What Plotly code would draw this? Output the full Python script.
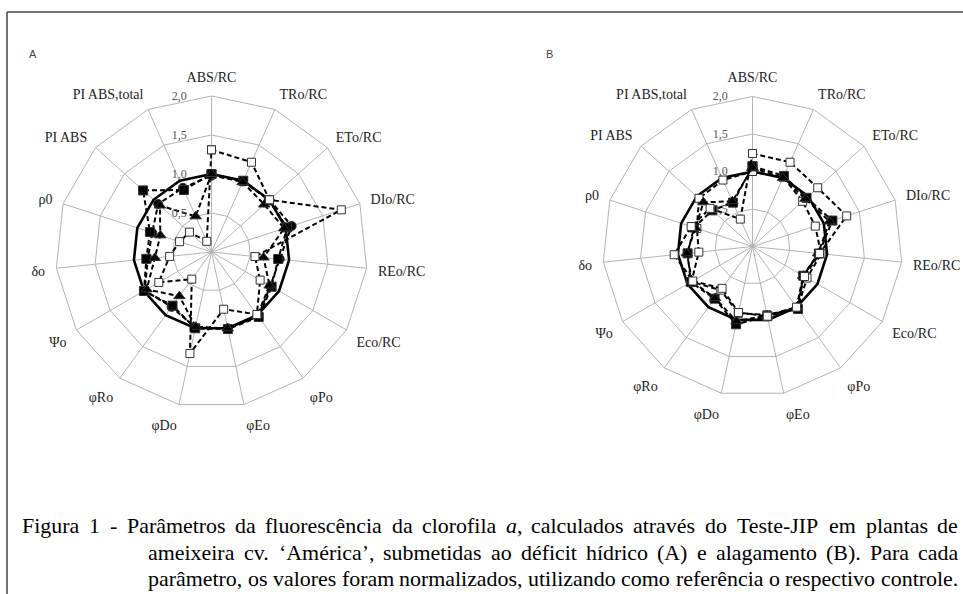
import unicodedata
import plotly.graph_objects as go

W, H = 963, 594

categories = ["ABS/RC", "TRo/RC", "ETo/RC", "DIo/RC", "REo/RC", "Eco/RC", "φPo", "φEo",
              "φDo", "φRo", "Ψo", "δo", "ρ0", "PI ABS", "PI ABS,total"]

radial_ticks = [0.5, 1.0, 1.5, 2.0]
radial_ticktext = ["0,5", "1,0", "1,5", "2,0"]

# Panel A - water deficit (values normalised to control)
a_control = [1.0] * 15
a_open_sq = [1.31, 1.26, 1.00, 1.75, 0.56, 0.72, 0.99, 0.75, 1.33, 0.43, 0.78, 0.54, 0.43, 0.38, 0.15]
a_triangle = [1.00, 0.98, 0.91, 0.98, 0.67, 0.86, 1.00, 1.00, 0.98, 0.70, 0.96, 0.73, 0.69, 0.89, 0.50]
a_square = [1.00, 1.00, 0.99, 1.02, 0.86, 0.89, 1.03, 1.01, 1.00, 0.85, 1.00, 0.84, 0.83, 1.18, 0.87]
a_circle = [0.98, 0.99, 1.00, 1.08, 0.88, 0.87, 1.02, 1.00, 0.99, 0.87, 0.99, 0.82, 0.80, 0.92, 0.90]

# Panel B - flooding
b_control = [1.0] * 15
b_open_sq = [1.24, 1.23, 1.17, 1.32, 0.90, 0.80, 1.00, 0.95, 0.90, 0.69, 0.92, 1.05, 0.86, 0.76, 0.40]
b_triangle = [1.05, 1.00, 0.95, 1.08, 0.88, 0.78, 1.00, 0.94, 1.02, 0.85, 0.93, 0.88, 0.80, 0.88, 0.66]
b_square = [1.07, 1.03, 0.97, 1.12, 0.89, 0.78, 1.03, 0.95, 1.06, 0.86, 0.95, 0.87, 0.82, 0.72, 0.64]
b_circle = [1.00, 1.01, 0.90, 0.88, 0.92, 0.84, 1.02, 0.93, 0.91, 0.72, 0.94, 0.72, 0.78, 0.96, 0.97]

# caption lines; "*" marks an italic letter
caption_lines = [
    "Figura 1 - Parâmetros da fluorescência da clorofila *a, calculados através do Teste-JIP em plantas de",
    "ameixeira cv. ‘América’, submetidas ao déficit hídrico (A) e alagamento (B). Para cada",
    "parâmetro, os valores foram normalizados, utilizando como referência o respectivo controle.",
]

fig = go.Figure()


def closed(v):
    return list(v) + [v[0]]


cats_closed = closed(categories)


def add_panel(sub, control, series):
    fig.add_trace(go.Scatterpolar(r=closed(control), theta=cats_closed, mode="lines",
                                  line=dict(color="black", width=2.6), subplot=sub,
                                  showlegend=False, hoverinfo="skip"))
    for vals, sym, fill, size in series:
        fig.add_trace(go.Scatterpolar(
            r=closed(vals), theta=cats_closed, mode="lines+markers", subplot=sub,
            line=dict(color="black", width=2, dash="5px,3px"),
            marker=dict(symbol=sym, size=size, color=fill,
                        line=dict(color="#333333", width=1)),
            showlegend=False))


add_panel("polar", a_control, [(a_circle, "circle", "black", 9), (a_square, "square", "black", 9),
                               (a_triangle, "triangle-up", "black", 10),
                               (a_open_sq, "square", "white", 8)])
add_panel("polar2", b_control, [(b_circle, "square", "white", 8), (b_square, "square", "black", 9),
                                (b_triangle, "triangle-up", "black", 10),
                                (b_open_sq, "square", "white", 8)])


def polar_layout(cx, cy, rad):
    return dict(
        domain=dict(x=[(cx - rad) / W, (cx + rad) / W], y=[1 - (cy + rad) / H, 1 - (cy - rad) / H]),
        bgcolor="white",
        gridshape="linear",
        angularaxis=dict(direction="clockwise", rotation=90, type="category",
                         categoryarray=categories,
                         showline=True, linecolor="#b4b4b4", linewidth=1,
                         gridcolor="#b4b4b4", gridwidth=1,
                         ticks="outside", ticklen=8, tickcolor="rgba(0,0,0,0)",
                         tickfont=dict(family="Liberation Serif", size=14, color="#222222")),
        radialaxis=dict(range=[0, 2], tickvals=radial_ticks, ticktext=radial_ticktext,
                        angle=90, side="counterclockwise", tickangle=90, showline=False,
                        ticks="outside", ticklen=20, tickcolor="rgba(0,0,0,0)",
                        gridcolor="#b4b4b4", gridwidth=1,
                        tickfont=dict(family="Liberation Serif", size=12, color="#555555")),
    )


annotations = [
    dict(text="A", x=27 / W, y=1 - 46 / H, xref="paper", yref="paper", showarrow=False,
         font=dict(family="Liberation Sans", size=11, color="#444444")),
    dict(text="B", x=549 / W, y=1 - 46 / H, xref="paper", yref="paper", showarrow=False,
         font=dict(family="Liberation Sans", size=11, color="#444444")),
]

# --- justified caption (Times / Liberation Serif advance widths, per 1000 em) ---
TW = {' ': 250, '(': 333, ')': 333, ',': 250, '-': 333, '.': 250, '‘': 333, '’': 333,
      'A': 722, 'B': 667, 'C': 667, 'D': 722, 'E': 611, 'F': 556, 'G': 722, 'H': 722, 'I': 333,
      'J': 389, 'K': 722, 'L': 611, 'M': 889, 'N': 722, 'O': 722, 'P': 556, 'Q': 722, 'R': 667,
      'S': 556, 'T': 611, 'U': 722, 'V': 722, 'W': 944, 'X': 722, 'Y': 722, 'Z': 611,
      'a': 444, 'b': 500, 'c': 444, 'd': 500, 'e': 444, 'f': 333, 'g': 500, 'h': 500, 'i': 278,
      'j': 278, 'k': 500, 'l': 278, 'm': 778, 'n': 500, 'o': 500, 'p': 500, 'q': 500, 'r': 333,
      's': 389, 't': 278, 'u': 500, 'v': 500, 'w': 722, 'x': 500, 'y': 500, 'z': 444}


def units(s):
    tot = 0
    for ch in s.replace("*", ""):
        base = unicodedata.normalize("NFD", ch)[0]
        tot += TW.get(ch, TW.get(base, 500))
    return tot


cap_left = [22, 148, 148]
cap_right = 958
cap_y = [525, 552, 578]
fs = (cap_right - cap_left[2]) * 1000.0 / units(caption_lines[2])
for line, left, yy in zip(caption_lines, cap_left, cap_y):
    words = line.split(" ")
    wsum = sum(units(w) for w in words) * fs / 1000.0
    gap = (cap_right - left - wsum) / (len(words) - 1)
    x = left
    for w in words:
        txt = w
        if txt.startswith("*"):
            txt = "<i>" + txt[1] + "</i>" + txt[2:]
        annotations.append(dict(text=txt, x=(x - 1) / W, y=1 - yy / H, xref="paper", yref="paper",
                                xanchor="left", yanchor="middle", showarrow=False, borderpad=0,
                                font=dict(family="Liberation Serif", size=fs, color="black")))
        x += units(w) * fs / 1000.0 + gap

fig.update_layout(
    width=W, height=H, autosize=False,
    margin=dict(l=0, r=0, t=0, b=0),
    paper_bgcolor="white", plot_bgcolor="white",
    polar=polar_layout(211.5, 252, 156),
    polar2=polar_layout(752.5, 246.5, 150),
    annotations=annotations,
    shapes=[
        dict(type="line", xref="paper", yref="paper", x0=7 / W, x1=1, y0=1 - 12 / H, y1=1 - 12 / H,
             line=dict(color="#444444", width=1.5)),
        dict(type="line", xref="paper", yref="paper", x0=7 / W, x1=7 / W, y0=0, y1=1 - 12 / H,
             line=dict(color="#444444", width=1.5)),
    ],
)

fig.write_html("out.html", config={"displayModeBar": False},
               post_script="document.body.style.margin='0px';")
